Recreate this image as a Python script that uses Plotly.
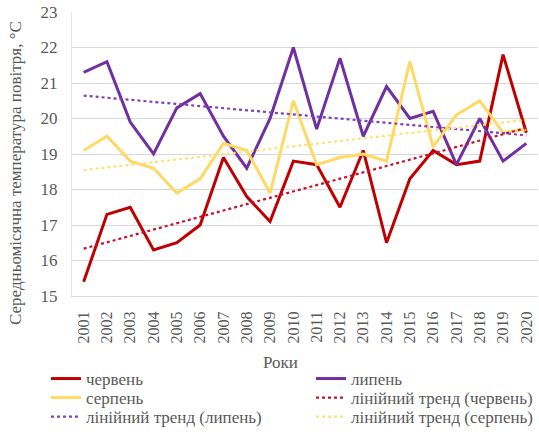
import numpy as np
import plotly.graph_objects as go

years = [str(y) for y in range(2001, 2021)]

june = [15.4, 17.3, 17.5, 16.3, 16.5, 17.0, 18.9, 17.8, 17.1, 18.8,
        18.7, 17.5, 19.1, 16.5, 18.3, 19.1, 18.7, 18.8, 21.8, 19.6]
july = [21.3, 21.6, 19.9, 19.0, 20.3, 20.7, 19.5, 18.6, 20.0, 22.0,
        19.7, 21.7, 19.5, 20.9, 20.0, 20.2, 18.7, 20.0, 18.8, 19.3]
august = [19.1, 19.5, 18.8, 18.6, 17.9, 18.3, 19.3, 19.1, 17.9, 20.5,
          18.7, 18.9, 19.0, 18.8, 21.6, 19.2, 20.1, 20.5, 19.6, 19.7]

series_names = ["червень", "липень", "серпень"]
trend_names = ["лінійний тренд (червень)", "лінійний тренд (липень)",
               "лінійний тренд (серпень)"]
y_title = "Середньомісячна температура повітря, °С"
x_title = "Роки"

RED = "#C00000"
PURPLE = "#7030A0"
YELLOW = "#FFD966"
TREND_RED = "#C8102E"
TREND_PURPLE = "#7F3FBF"
TREND_YELLOW = "#FFE07A"

FONT = "Times New Roman, Liberation Serif, DejaVu Serif, serif"
GREY = "#595959"

# plot area in pixels
L, R, T, B = 72, 1, 12, 136
W, H = 539, 432
PW, PH = W - L - R, H - T - B


def px_x(px):
    return (px - L) / PW


def px_y(py):
    return (H - B - py) / PH


def linear_trend(values):
    x = np.arange(len(values))
    k, b = np.polyfit(x, values, 1)
    return (k * x + b).tolist()


# each legend entry gets its own legend box: two columns, three rows
legend_ids = ["legend", "legend2", "legend3", "legend4", "legend5", "legend6"]
col_x = [46, 311]
row_y = [379, 398, 417]
slots = [(0, 0), (1, 0), (0, 1), (1, 1), (0, 2), (1, 2)]

fig = go.Figure()
for i, (name, vals, col) in enumerate(zip(series_names, [june, july, august],
                                          [RED, PURPLE, YELLOW])):
    fig.add_trace(go.Scatter(x=years, y=vals, name=name, mode="lines",
                             legend=legend_ids[i],
                             line=dict(color=col, width=3)))
for j, (name, vals, col) in enumerate(zip(trend_names, [june, july, august],
                                          [TREND_RED, TREND_PURPLE, TREND_YELLOW])):
    fig.add_trace(go.Scatter(x=years, y=linear_trend(vals), name=name, mode="lines",
                             legend=legend_ids[3 + j],
                             line=dict(color=col, width=2.2, dash="dot")))

legend_layout = {}
for lid, (c, r) in zip(legend_ids, slots):
    legend_layout[lid] = dict(
        x=px_x(col_x[c]), xanchor="left", y=px_y(row_y[r]), yanchor="middle",
        font=dict(family=FONT, size=17, color=GREY),
        bgcolor="rgba(0,0,0,0)", itemwidth=30)

fig.update_layout(
    width=W, height=H,
    margin=dict(l=L, r=R, t=T, b=B, autoexpand=False),
    paper_bgcolor="white", plot_bgcolor="white",
    font=dict(family=FONT, color=GREY, size=16),
    showlegend=True,
    xaxis=dict(type="category", range=[-0.5, 19.5], tickangle=-90,
               showgrid=False, showline=True, linecolor="#D9D9D9", linewidth=1,
               ticks="", ticklabelstandoff=8,
               tickfont=dict(family=FONT, size=16, color=GREY)),
    yaxis=dict(range=[15, 23], dtick=1, showgrid=True, gridcolor="#D9D9D9",
               gridwidth=1, zeroline=False, showline=True, linecolor="#E6E6E6",
               ticks="", ticklabelstandoff=10,
               tickfont=dict(family=FONT, size=17, color=GREY)),
    annotations=[
        dict(text=y_title, textangle=-90, xref="paper", yref="paper",
             x=px_x(15), y=px_y(173), xanchor="center", yanchor="middle",
             showarrow=False, font=dict(family=FONT, size=17, color=GREY)),
        dict(text=x_title, xref="paper", yref="paper",
             x=px_x(280), y=px_y(362), xanchor="center", yanchor="middle",
             showarrow=False, font=dict(family=FONT, size=17, color=GREY)),
    ],
    **legend_layout,
)

fig.write_html("out.html")
